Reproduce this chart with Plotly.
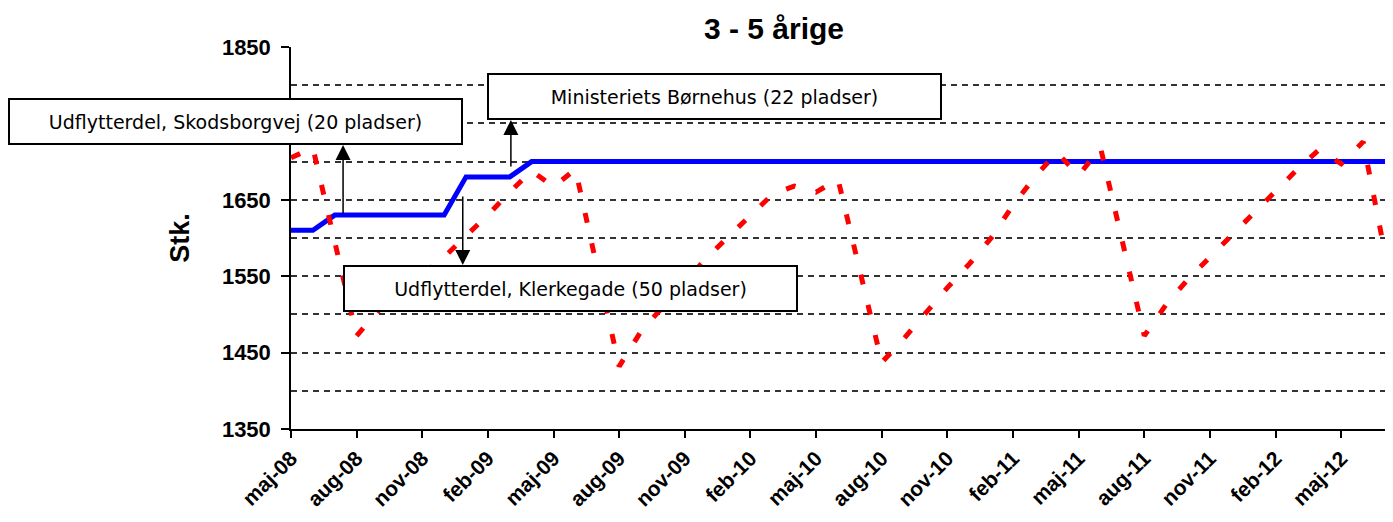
import plotly.graph_objects as go

# ---------------- data ----------------
months = [
    "maj-08", "jun-08", "jul-08", "aug-08", "sep-08", "okt-08", "nov-08", "dec-08",
    "jan-09", "feb-09", "mar-09", "apr-09", "maj-09", "jun-09", "jul-09", "aug-09",
    "sep-09", "okt-09", "nov-09", "dec-09", "jan-10", "feb-10", "mar-10", "apr-10",
    "maj-10", "jun-10", "jul-10", "aug-10", "sep-10", "okt-10", "nov-10", "dec-10",
    "jan-11", "feb-11", "mar-11", "apr-11", "maj-11", "jun-11", "jul-11", "aug-11",
    "sep-11", "okt-11", "nov-11", "dec-11", "jan-12", "feb-12", "mar-12", "apr-12",
    "maj-12", "jun-12", "jul-12",
]

tick_labels = [
    "maj-08", "aug-08", "nov-08", "feb-09", "maj-09", "aug-09", "nov-09", "feb-10",
    "maj-10", "aug-10", "nov-10", "feb-11", "maj-11", "aug-11", "nov-11", "feb-12",
    "maj-12",
]

# Capacity (blue solid line)
capacity = [
    1610, 1610, 1630, 1630, 1630, 1630, 1630, 1630,
    1680, 1680, 1680, 1700, 1700, 1700, 1700, 1700,
    1700, 1700, 1700, 1700, 1700, 1700, 1700, 1700,
    1700, 1700, 1700, 1700, 1700, 1700, 1700, 1700,
    1700, 1700, 1700, 1700, 1700, 1700, 1700, 1700,
    1700, 1700, 1700, 1700, 1700, 1700, 1700, 1700,
    1700, 1700, 1700,
]

# Number of children (red dashed line)
children = [
    1705, 1718, 1595, 1472, 1505, 1530, 1552, 1575,
    1603, 1630, 1660, 1688, 1667, 1690, 1560, 1432,
    1478, 1510, 1540, 1574, 1602, 1630, 1657, 1668,
    1660, 1677, 1558, 1437, 1468, 1502, 1535, 1566,
    1600, 1643, 1680, 1712, 1682, 1718, 1593, 1472,
    1513, 1546, 1575, 1604, 1633, 1662, 1690, 1716,
    1697, 1726, 1580,
]

box_texts = [
    "Udflytterdel, Skodsborgvej (20 pladser)",
    "Ministeriets Børnehus (22 pladser)",
    "Udflytterdel, Klerkegade (50 pladser)",
]

# ---------------- figure ----------------
# The page body has an 8px margin, so the figure is placed 8px in from the window edge.
OFF = 8
W, H = 1393 - OFF, 522 - OFF

fig = go.Figure()

fig.add_trace(go.Scatter(
    x=months, y=capacity, mode="lines",
    line=dict(color="#0000ff", width=5),
    name="Kapacitet", hoverinfo="x+y",
))
fig.add_trace(go.Scatter(
    x=months, y=children, mode="lines",
    line=dict(color="#ff0000", width=5, dash="10px,21px"),
    name="Børn", hoverinfo="x+y",
))

grid_style = dict(gridcolor="#333333", griddash="6px,5px", gridwidth=1.5)
axis_font = "Liberation Sans, Arial, sans-serif"

# plot area in window pixels
PL, PR, PT, PB = 291, 1385, 47, 429

fig.update_layout(
    width=W, height=H,
    margin=dict(l=PL - OFF, r=W - (PR - OFF), t=PT - OFF, b=H - (PB - OFF)),
    paper_bgcolor="white", plot_bgcolor="white",
    showlegend=False,
    title=dict(
        text="<b>3 - 5 årige</b>",
        x=(774 - OFF) / W, xref="container", xanchor="center",
        y=1 - (28 - OFF) / H, yref="container", yanchor="middle",
        font=dict(family=axis_font, size=30, color="black"),
    ),
    xaxis=dict(
        type="category",
        range=[0, len(months) - 1],
        tickmode="array", tickvals=tick_labels, ticktext=tick_labels,
        tickangle=-45,
        ticks="outside", ticklen=7, tickwidth=1.5, tickcolor="black",
        showline=True, linecolor="black", linewidth=1.5,
        showgrid=False, zeroline=False,
        tickfont=dict(family=axis_font, size=21, color="black", weight="bold"),
    ),
    yaxis=dict(
        range=[1350, 1850],
        tick0=1350, dtick=100,
        ticks="outside", ticklen=8, tickwidth=1.5, tickcolor="black",
        showline=True, linecolor="black", linewidth=1.5,
        showgrid=True, zeroline=False,
        minor=dict(tick0=1350, dtick=50, showgrid=True, ticks="", **grid_style),
        tickfont=dict(family=axis_font, size=22, color="black", weight="bold"),
        ticklabelstandoff=6,
        title=dict(
            text="<b>Stk.</b>", standoff=24,
            font=dict(family=axis_font, size=27, color="black"),
        ),
        **grid_style,
    ),
)


def px_to_paper(px, py):
    return (px - PL) / (PR - PL), (PB - py) / (PB - PT)


box_centers = [(235.5, 121.5), (714.5, 96.5), (570.5, 288.5)]
box_font = dict(family="DejaVu Sans, Verdana, sans-serif", size=19, color="black")

for text, (cx, cy) in zip(box_texts, box_centers):
    xp, yp = px_to_paper(cx, cy)
    fig.add_annotation(
        text=text, xref="paper", yref="paper", x=xp, y=yp,
        xanchor="center", yanchor="middle", showarrow=False,
        width=451, height=43, align="center", valign="middle",
        bgcolor="white", bordercolor="black", borderwidth=2, borderpad=0,
        font=box_font,
    )

# arrows: tail on the capacity line, head at the text box edge
# (month index position, tail value, head value)
arrows = [
    (2.38, 1630, 1721.7),
    (10.05, 1691.6, 1754.4),
    (7.85, 1656.3, 1564.7),
]
for xi, tail_y, head_y in arrows:
    fig.add_annotation(
        text="", xref="x", yref="y", axref="x", ayref="y",
        x=xi, y=head_y, ax=xi, ay=tail_y,
        showarrow=True, arrowhead=2, arrowsize=2, arrowwidth=1.5,
        arrowcolor="black", standoff=0, startstandoff=0,
    )

fig.write_html("out.html")
